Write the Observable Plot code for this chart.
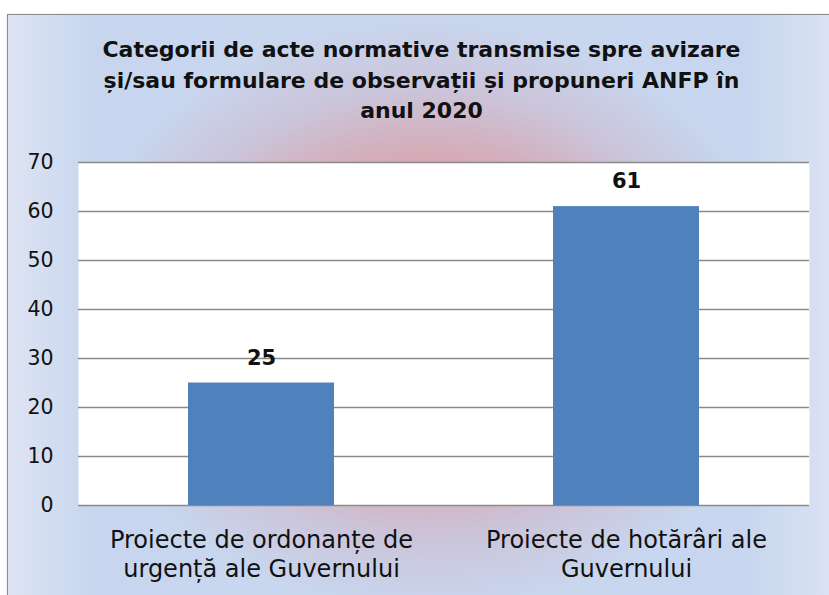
<!DOCTYPE html>
<html>
<head>
<meta charset="utf-8">
<script src="https://cdn.jsdelivr.net/npm/d3@7"></script>
<script src="https://cdn.jsdelivr.net/npm/@observablehq/plot@0.6"></script>
<style>
  html, body { margin: 0; padding: 0; width: 829px; height: 595px; overflow: hidden; background: #ffffff; }
  #frame {
    position: absolute; left: 7px; top: 14px; width: 840px; height: 600px;
    border: 1.5px solid #8c8c8c; box-sizing: border-box;
    box-shadow: 1px 1px 3px rgba(0,0,0,0.25);
    background:
      radial-gradient(ellipse 50% 58% at 50% 50%, rgba(214,166,176,1) 0%, rgba(214,168,178,0.95) 45%, rgba(205,185,205,0.6) 65%, rgba(198,214,238,0) 85%),
      linear-gradient(to right, #dee4f3 0%, #c7d6ee 10%, #c9d6ee 50%, #c7d6ee 88%, #dee4f3 100%);
  }
  #title {
    position: absolute; left: 0; top: 35px; width: 843px; text-align: center;
    font-family: "DejaVu Sans", sans-serif; font-weight: bold;
    font-size: 22px; line-height: 30.5px; color: #111;
  }
  #chart { position: absolute; left: 0; top: 140px; }
</style>
</head>
<body>
<div id="frame"></div>
<div id="title">Categorii de acte normative transmise spre avizare<br>și/sau formulare de observații și propuneri ANFP în<br>anul 2020</div>
<div id="chart"></div>
<script>
const categories = ["Proiecte de ordonanțe de urgență ale Guvernului", "Proiecte de hotărâri ale Guvernului"];
const categoryLines = ["Proiecte de ordonanțe de\nurgență ale Guvernului", "Proiecte de hotărâri ale\nGuvernului"];
const values = [25, 61];
const yTicks = [0, 10, 20, 30, 40, 50, 60, 70];

const data = categories.map((c, i) => ({category: c, label: categoryLines[i], value: values[i]}));

const chart = Plot.plot({
  width: 829,
  height: 455,
  marginTop: 22,
  marginBottom: 90,
  marginLeft: 78,
  marginRight: 20,
  style: {background: "transparent", fontFamily: "'DejaVu Sans', sans-serif", color: "#111"},
  x: {domain: categories, paddingInner: 0.6, paddingOuter: 0.3, axis: null},
  y: {domain: [0, 70], ticks: yTicks, axis: null},
  marks: [
    Plot.frame({fill: "white", stroke: "none"}),
    Plot.gridY(yTicks, {stroke: "#8a8a8a", strokeOpacity: 1, strokeWidth: 1.5}),
    Plot.barY(data, {x: "category", y: "value", fill: "#4f81bd"}),
    Plot.ruleX([0], {frameAnchor: "left", stroke: "#8a8a8a", strokeWidth: 1.5}),
    Plot.axisY(yTicks, {tickSize: 0, tickPadding: 25, fontSize: 20.5, fill: "#111", anchor: "left", label: null}),
    Plot.text(data, {x: "category", frameAnchor: "bottom", text: "label", dy: 21, lineAnchor: "top", lineHeight: 1.24, fontSize: 24, fill: "#111"}),
    Plot.text(data, {x: "category", y: "value", text: d => String(d.value), dy: -25, fontSize: 21, fontWeight: "bold", fill: "#111"})
  ]
});
document.getElementById("chart").appendChild(chart);
</script>
</body>
</html>
